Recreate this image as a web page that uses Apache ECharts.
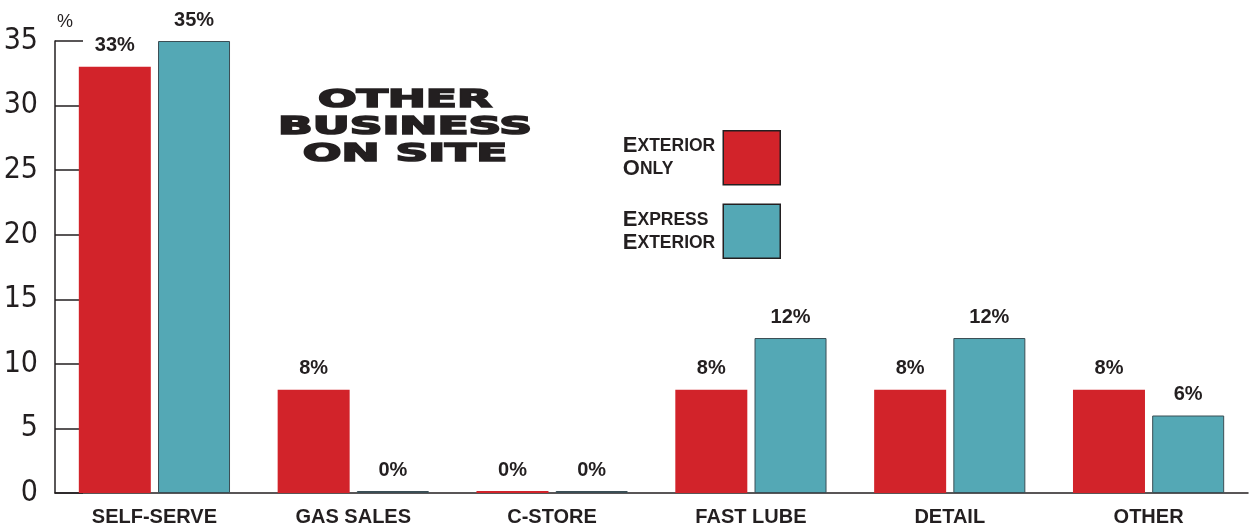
<!DOCTYPE html>
<html><head><meta charset="utf-8">
<script src="https://cdn.jsdelivr.net/npm/echarts@6/dist/echarts.min.js"></script>
<style>html,body{margin:0;padding:0;background:#fff}#c{width:1251px;height:528px}</style>
</head><body><div id="c"></div>
<script>
const categories = ['SELF-SERVE','GAS SALES','C-STORE','FAST LUBE','DETAIL','OTHER'];
const exteriorOnly = [33, 8, 0, 8, 8, 8];
const expressExterior = [35, 0, 0, 12, 12, 6];
const seriesNames = ['EXTERIOR ONLY','EXPRESS EXTERIOR'];
const yTicks = {min: 0, max: 35, interval: 5};
const titleText = 'OTHER\nBUSINESS\nON SITE';

const ink = '#231f20';
const chart = echarts.init(document.getElementById('c'));
const labelStyle = {show: true, position: 'top', distance: 11, formatter: '{c}%',
  fontFamily: 'Liberation Sans', fontWeight: 'bold', fontSize: 20, color: ink};
function smallCaps(name){
  return name.split(' ').map(w => '{b|' + w[0] + '}{s|' + w.slice(1) + '}').join('\n');
}
chart.setOption({
  animation: false,
  grid: {left: 55, right: 3, top: 41, bottom: 35, outerBoundsMode: 'none', containLabel: false},
  graphic: [{
    type: 'text', x: 405, y: 87, scaleX: 1.82, originX: 0,
    style: {text: titleText, align: 'center', verticalAlign: 'top', fontFamily: 'DejaVu Sans',
      fontWeight: 'bold', fontSize: 25, lineHeight: 27, fill: ink, stroke: ink, lineWidth: 1.6}
  }],
  legend: {
    orient: 'vertical', right: 465, top: 125, align: 'right', itemWidth: 57, itemHeight: 54,
    itemGap: 18, icon: 'rect',
    itemStyle: {borderColor: ink, borderWidth: 1.5},
    formatter: smallCaps,
    textStyle: {color: ink, fontFamily: 'Liberation Sans', fontWeight: 'bold', padding: [0, 3, 0, 0],
      rich: {
        b: {fontSize: 22, fontWeight: 'bold', fontFamily: 'Liberation Sans', color: ink, lineHeight: 23, align: 'left'},
        s: {fontSize: 17.5, fontWeight: 'bold', fontFamily: 'Liberation Sans', color: ink, lineHeight: 23, align: 'left'}
      }}
  },
  xAxis: {
    type: 'category', data: categories,
    axisLine: {lineStyle: {color: ink, width: 1.5}},
    axisTick: {inside: true, length: 10, lineStyle: {color: ink, width: 1.5}},
    axisLabel: {fontFamily: 'Liberation Sans', fontWeight: 'bold', fontSize: 20, color: ink, margin: 14}
  },
  yAxis: {
    type: 'value', min: yTicks.min, max: yTicks.max, interval: yTicks.interval,
    name: '%', nameLocation: 'end', nameGap: 10,
    nameTextStyle: {fontFamily: 'Liberation Sans', fontSize: 18, color: ink, align: 'left', padding: [0, 0, 0, 2]},
    axisLine: {show: true, lineStyle: {color: ink, width: 1.5}},
    axisTick: {show: true, inside: true, length: 28, lineStyle: {color: ink, width: 1.5}},
    splitLine: {show: false},
    axisLabel: {fontFamily: '"DejaVu Sans Condensed", "Roboto Condensed", Roboto, sans-serif', fontWeight: 300, fontSize: 30, color: ink, margin: 17}
  },
  series: [
    {name: seriesNames[0], type: 'bar', data: exteriorOnly, barWidth: 72, barGap: '10%', barMinHeight: 2,
      itemStyle: {color: '#d2232a'}, label: labelStyle},
    {name: seriesNames[1], type: 'bar', data: expressExterior, barWidth: 72, barMinHeight: 2,
      itemStyle: {color: '#54a8b5', borderColor: '#3b4e55', borderWidth: 1}, label: labelStyle}
  ]
});
</script></body></html>
